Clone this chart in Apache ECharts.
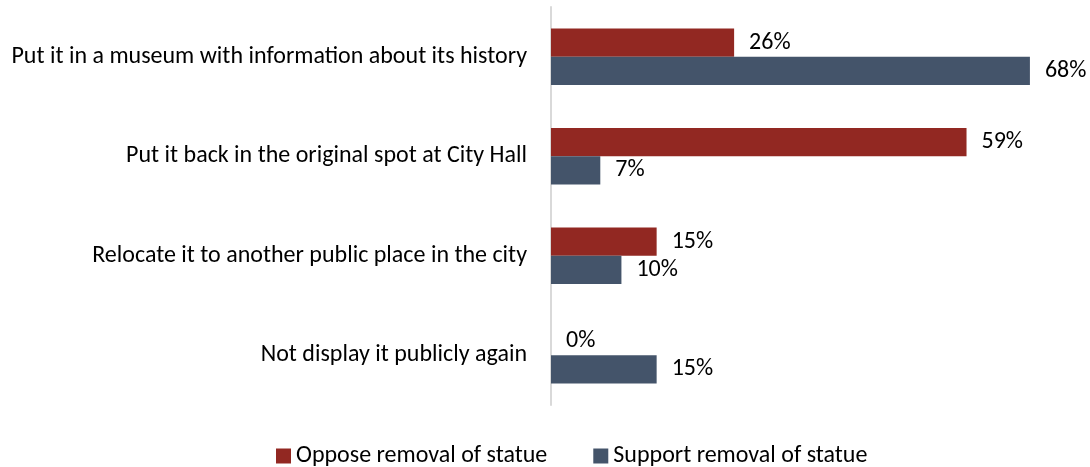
<!DOCTYPE html>
<html><head><meta charset="utf-8">
<script src="https://cdn.jsdelivr.net/npm/echarts@6/dist/echarts.min.js"></script>
<style>html,body{margin:0;padding:0;background:#fff}#c{width:1090px;height:467px}</style>
</head><body><div id="c"></div>
<script>
var categories = ["Put it in a museum with information about its history","Put it back in the original spot at City Hall","Relocate it to another public place in the city","Not display it publicly again"];
var seriesNames = ["Oppose removal of statue","Support removal of statue"];
var oppose = [26, 59, 15, 0];
var support = [68, 7, 10, 15];
var FONT = "Carlito, 'Liberation Sans', 'Noto Sans', sans-serif";
var chart = echarts.init(document.getElementById('c'));
function lbl(){return {show:true,position:'right',distance:15,formatter:'{c}%',color:'#000',fontSize:24,fontFamily:FONT};}
chart.setOption({
  animation:false,
  grid:{left:551,right:46,top:7,bottom:62},
  xAxis:{type:'value',min:0,max:70,show:false},
  yAxis:{type:'category',data:categories,inverse:true,
    axisLine:{show:true,lineStyle:{color:'#d9d9d9',width:2}},
    axisTick:{show:false},
    axisLabel:{color:'#000',fontSize:24,fontFamily:FONT,margin:24}},
  legend:{left:276,top:443,padding:0,itemWidth:15,itemHeight:15,itemGap:46,icon:'rect',
    textStyle:{color:'#000',fontSize:24,fontFamily:FONT,lineHeight:26},data:seriesNames},
  series:[
    {name:seriesNames[0],type:'bar',data:oppose,itemStyle:{color:'#922822'},barGap:'0%',barCategoryGap:'43%',label:lbl()},
    {name:seriesNames[1],type:'bar',data:support,itemStyle:{color:'#44546a'},barGap:'0%',barCategoryGap:'43%',label:lbl()}
  ]
});
</script></body></html>
